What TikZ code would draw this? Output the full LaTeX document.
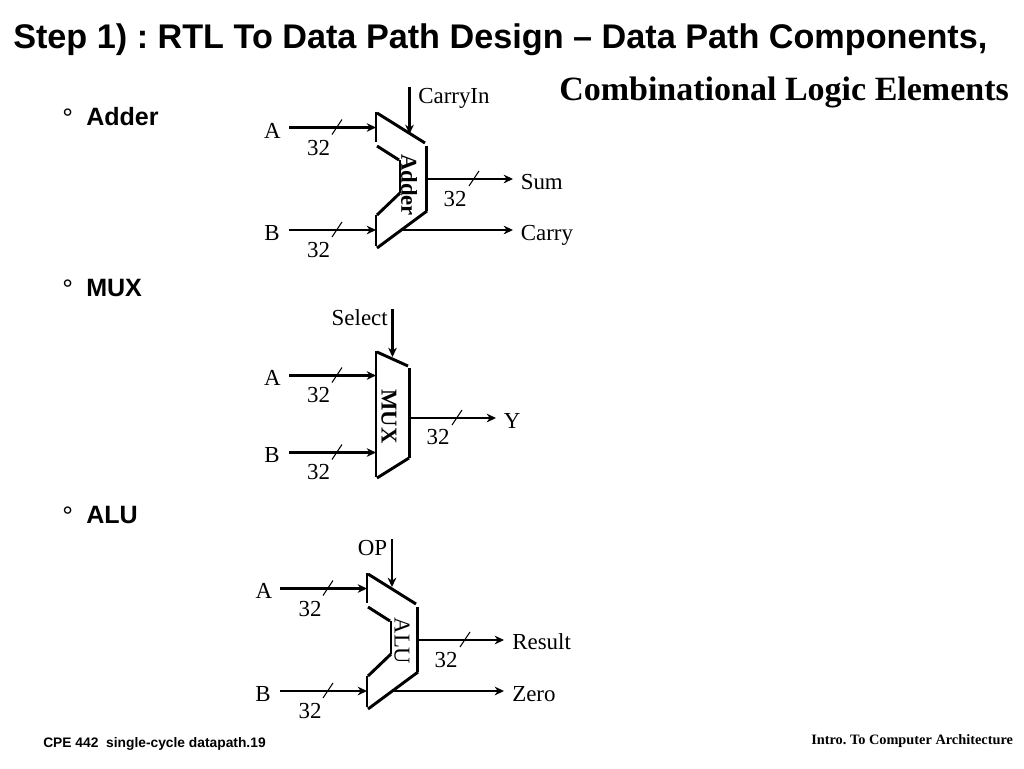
\documentclass[tikz,border=0pt]{standalone}
\usepackage{fontspec}
\setmainfont{Liberation Serif}
\setsansfont{Liberation Sans}
\usetikzlibrary{arrows.meta}
\frenchspacing
\tikzset{
  wire/.style = {line width = 2pt, -{Stealth[length = 7pt, width = 6.5pt]}},
  body/.style = {line width = 2.2pt},
  slash/.style = {line width = .8pt},
  lab/.style = {inner sep = 0pt, anchor = base, font = \fontsize{17.2}{20}\selectfont},
  blockname/.style = {inner sep = 0pt, rotate = -90, font = \fontsize{17}{20}\bfseries\selectfont},
  head/.style = {inner sep = 0pt, anchor = west, font = \fontsize{18.8}{22}\sffamily\bfseries\selectfont},
  dot/.style = {inner sep = 0pt, anchor = base west, font = \fontsize{20}{22}\sffamily\selectfont}
}
\begin{document}
\begin{tikzpicture}[x = .75pt, y = -.75pt]
      \useasboundingbox (0,0) rectangle (1024,768);
      % titles and bullets
      \node [inner sep = 0pt, anchor = base west, font = \fontsize{25.65}{30}\sffamily\bfseries\selectfont]
        (title) at (13,48.5) {Step 1) : RTL To Data Path Design -- Data Path Components,};
      \node [inner sep = 0pt, anchor = base west, font = \fontsize{25.5}{30}\bfseries\selectfont]
        (subtitle) at (559,100) {Combinational Logic Elements};
      \node [head] (adderhead) at (86,117) {Adder};
      \node [head] (muxhead) at (86,288) {MUX};
      \node [head] (aluhead) at (86,515) {ALU};
      \node [dot] (adderdot) at (62,127) {°};
      \node [dot] (muxdot) at (62,298) {°};
      \node [dot] (aludot) at (62,525) {°};
      \node [inner sep = 0pt, anchor = base west, font = \fontsize{10.35}{12}\sffamily\bfseries\selectfont]
        (footleft) at (43,747) {CPE 442\ \ single-cycle datapath.19};
      \node [inner sep = 0pt, anchor = base west, font = \fontsize{10.75}{12}\bfseries\selectfont]
        (footright) at (811,744) {Intro. To Computer Architecture};

      % adder
      \draw [body] (376,112) -- (376,142);
      \draw [body] (377,113) -- (425,143);
      \draw [body] (426.5,146) -- (426.5,211);
      \draw [body] (427,211) -- (377,248);
      \draw [body] (376,215) -- (376,246);
      \draw [body] (377,146) -- (399,160);
      \draw [body] (400,160) -- (400,193);
      \draw [body] (400,193) -- (377,215);
      \node [blockname] (addername) at (409,185) {Adder};
      \coordinate (adderAin) at (289,127.5);
      \coordinate (adderAout) at (376,127.5);
      \coordinate (adderBin) at (289,230);
      \coordinate (adderBout) at (376,230);
      \coordinate (adderCin) at (409.5,87);
      \coordinate (adderCout) at (409.5,134);
      \coordinate (adderSin) at (427,179);
      \coordinate (adderSout) at (513,179);
      \coordinate (adderKin) at (402,230);
      \coordinate (adderKout) at (513,230);
      \draw [wire] (adderAin) -- (adderAout);
      \draw [wire] (adderBin) -- (adderBout);
      \draw [wire] (adderCin) -- (adderCout);
      \draw [wire] (adderSin) -- (adderSout);
      \draw [wire] (adderKin) -- (adderKout);
      \node [lab] (adderA) at (272.5,138.5) {A};
      \node [lab] (adderB) at (272,240) {B};
      \node [lab, anchor = base west] (adderC) at (418,103) {CarryIn};
      \node [lab, anchor = base west] (adderS) at (520.5,189) {Sum};
      \node [lab, anchor = base west] (adderK) at (520.5,240) {Carry};
      \node [lab] (addern1) at (318.5,155) {32};
      \node [lab] (addern2) at (318.5,257) {32};
      \node [lab] (addern3) at (455,206) {32};

      % mux
      \draw [body] (376,351) -- (376,477);
      \draw [body] (377,352) -- (408,366);
      \draw [body] (409.5,368) -- (409.5,458);
      \draw [body] (409,458) -- (377,478);
      \node [blockname] (muxname) at (389,416.5) {MUX};
      \coordinate (muxAin) at (289,375.5);
      \coordinate (muxAout) at (376,375.5);
      \coordinate (muxBin) at (289,452.5);
      \coordinate (muxBout) at (376,452.5);
      \coordinate (muxCin) at (392.5,309);
      \coordinate (muxCout) at (392.5,357);
      \coordinate (muxYin) at (410,418);
      \coordinate (muxYout) at (496,418);
      \draw [wire] (muxAin) -- (muxAout);
      \draw [wire] (muxBin) -- (muxBout);
      \draw [wire] (muxCin) -- (muxCout);
      \draw [wire] (muxYin) -- (muxYout);
      \node [lab] (muxA) at (272.5,385.5) {A};
      \node [lab] (muxB) at (272,462) {B};
      \node [lab, anchor = base east] (muxC) at (388,325.5) {Select};
      \node [lab, anchor = base west] (muxY) at (503.5,428) {Y};
      \node [lab] (muxn1) at (318.5,402.5) {32};
      \node [lab] (muxn2) at (318.5,479) {32};
      \node [lab] (muxn3) at (438,444.5) {32};

      % alu
      \draw [body] (367,573) -- (367,603);
      \draw [body] (368,574) -- (416,604);
      \draw [body] (417.5,607) -- (417.5,672);
      \draw [body] (418,672) -- (368,709);
      \draw [body] (367,676) -- (367,707);
      \draw [body] (368,607) -- (390,621);
      \draw [body] (391,621) -- (391,654);
      \draw [body] (391,654) -- (368,676);
      \node [blockname, font = \fontsize{17}{20}\selectfont] (aluname) at (402,641) {ALU};
      \coordinate (aluAin) at (280,588.5);
      \coordinate (aluAout) at (367,588.5);
      \coordinate (aluBin) at (280,691);
      \coordinate (aluBout) at (367,691);
      \coordinate (aluCin) at (392,539);
      \coordinate (aluCout) at (392,587);
      \coordinate (aluRin) at (418,640);
      \coordinate (aluRout) at (504,640);
      \coordinate (aluZin) at (393,691);
      \coordinate (aluZout) at (504,691);
      \draw [wire] (aluAin) -- (aluAout);
      \draw [wire] (aluBin) -- (aluBout);
      \draw [wire] (aluCin) -- (aluCout);
      \draw [wire] (aluRin) -- (aluRout);
      \draw [wire] (aluZin) -- (aluZout);
      \node [lab] (aluA) at (264,598.5) {A};
      \node [lab] (aluB) at (263,701) {B};
      \node [lab, anchor = base east] (aluC) at (387.5,555.5) {OP};
      \node [lab, anchor = base west] (aluR) at (512,649.5) {Result};
      \node [lab, anchor = base west] (aluZ) at (512,701) {Zero};
      \node [lab] (alun1) at (310,616) {32};
      \node [lab] (alun2) at (310,718) {32};
      \node [lab] (alun3) at (446,667) {32};

      % width marks on the buses
      \foreach \x/\y in {337/127.5, 337/230, 474/179, 337/375.5, 337/452.5, 457/418,
                         328/588.5, 328/691, 465/640}
        \draw [slash] (\x-5,\y+7) -- (\x+5,\y-8);
    \end{tikzpicture}
\end{document}
